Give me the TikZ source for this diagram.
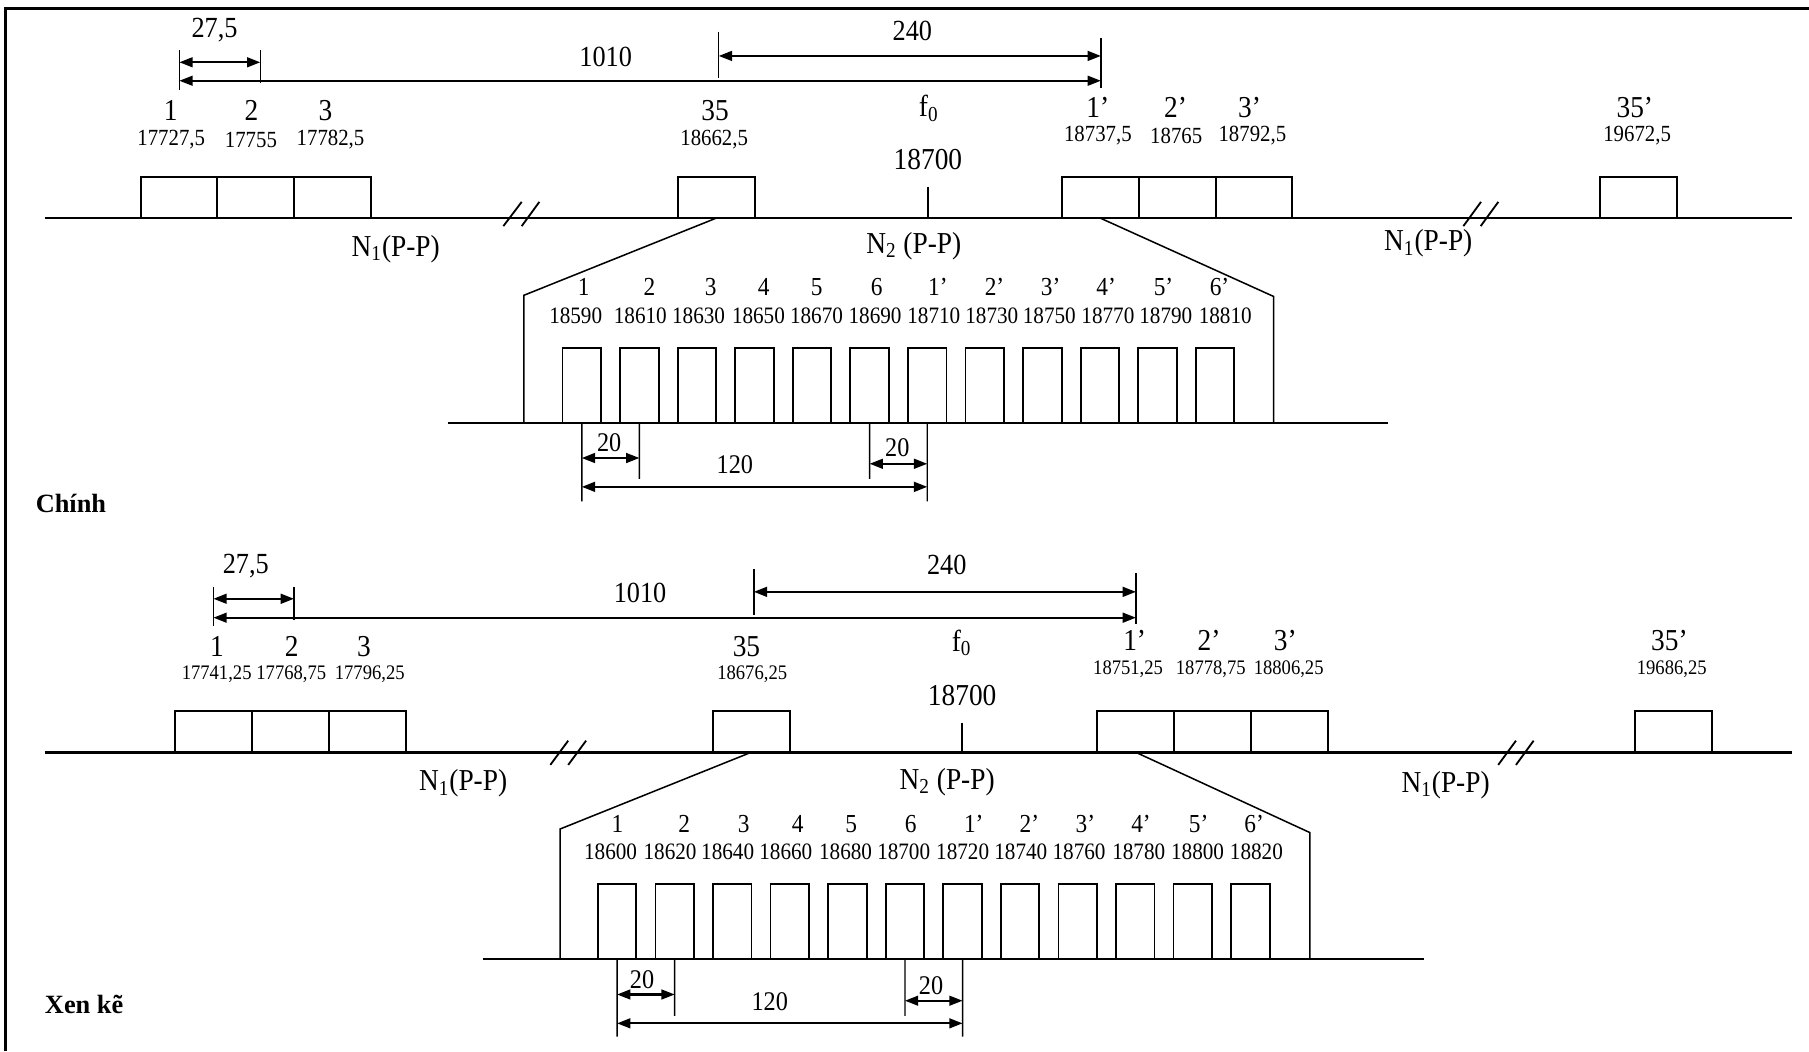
\documentclass[tikz,border=0pt]{standalone}
\usepackage{fontspec}
\setmainfont[FakeStretch=0.9]{Liberation Serif}
\newfontfamily\plainserif{Liberation Serif}
\usetikzlibrary{arrows.meta}
\tikzset{
 frameline/.style={line width=1.4pt},
 axisline/.style={line width=1.3pt},
 bigbox/.style={draw, line width=1pt, minimum width=1.332cm, minimum height=0.72cm, inner sep=0pt, outer sep=0pt, anchor=south west},
 smallbox/.style={draw, line width=0.9pt, minimum width=0.668cm, minimum height=1.3cm, inner sep=0pt, outer sep=0pt, anchor=south west},
 guide/.style={line width=0.75pt},
 tickline/.style={line width=0.7pt},
 dimarrow/.style={line width=1pt, {Triangle[length=2.3mm,width=1.7mm]}-{Triangle[length=2.3mm,width=1.7mm]}},
 brk/.style={line width=0.9pt},
 txt/.style={inner sep=0pt, outer sep=0pt},
 lbl/.style={txt, font=\fontsize{15}{17}\selectfont},
 numA/.style={txt, font=\fontsize{11.4}{13}\selectfont},
 numB/.style={txt, font=\fontsize{10.2}{12}\selectfont},
 zlbl/.style={txt, font=\fontsize{12.8}{14}\selectfont},
 znum/.style={txt, font=\fontsize{11.6}{13}\selectfont},
 dimtxt/.style={txt, font=\fontsize{14.4}{16}\selectfont},
 sdimtxt/.style={txt, font=\fontsize{13.3}{15}\selectfont},
 paneltitle/.style={txt, font=\plainserif\fontsize{13}{15}\selectfont\bfseries, anchor=west},
}
\begin{document}
\begin{tikzpicture}[x=0.02cm,y=-0.02cm]
\useasboundingbox (0,0) rectangle (1568,911);
% frame
\coordinate (fTL) at (5,7.2); \coordinate (fTR) at (1568,7.2); \coordinate (fBL) at (5,911);
\draw[frameline] (fBL) -- (fTL) -- (fTR);

%================ TOP PANEL ================
\coordinate (aT1t) at (155.5,43.4); \coordinate (aT1b) at (155.5,78);
\coordinate (aT2t) at (225.6,43.4); \coordinate (aT2b) at (225.6,72);
\coordinate (aT35t) at (623,27.5); \coordinate (aT35b) at (623,68);
\coordinate (aT1pt) at (954.2,33.2); \coordinate (aT1pb) at (954.2,76.6);
\draw[tickline] (aT1t) -- (aT1b);
\draw[tickline] (aT2t) -- (aT2b);
\draw[tickline] (aT35t) -- (aT35b);
\draw[tickline] (aT1pt) -- (aT1pb);
\coordinate (aD1l) at (155.5,54); \coordinate (aD1r) at (225.6,54);
\coordinate (aD2l) at (155.5,70); \coordinate (aD2r) at (954.2,70);
\coordinate (aD3l) at (623,48.5); \coordinate (aD3r) at (954.2,48.5);
\draw[dimarrow] (aD1l) -- (aD1r);
\draw[dimarrow] (aD2l) -- (aD2r);
\draw[dimarrow] (aD3l) -- (aD3r);
\node[dimtxt] (aL275) at (186,26) {27,5};
\node[dimtxt] (aL1010) at (525,49) {1010};
\node[dimtxt] (aL240) at (790.8,27) {240};
\node[lbl] (aC1) at (148,96) {1};
\node[lbl] (aC2) at (218,96) {2};
\node[lbl] (aC3) at (282,96) {3};
\node[lbl] (aC35) at (619.8,96) {35};
\node[lbl] (aF0) at (805,94) {f\textsubscript{0}};
\node[lbl] (aC1p) at (951.5,93) {1’};
\node[lbl] (aC2p) at (1019,93) {2’};
\node[lbl] (aC3p) at (1083,93) {3’};
\node[lbl] (aC35p) at (1417,93) {35’};
\node[numA] (aN1) at (148.4,121.4) {17727,5};
\node[numA] (aN2) at (217.5,121.4) {17755};
\node[numA] (aN3) at (286.5,121.4) {17782,5};
\node[numA] (aN35) at (619,121.4) {18662,5};
\node[numA] (aN1p) at (951.6,117.5) {18737,5};
\node[numA] (aN2p) at (1019.5,117.5) {18765};
\node[numA] (aN3p) at (1085.5,117.5) {18792,5};
\node[numA] (aN35p) at (1419,117.5) {19672,5};
\node[lbl] (aF0v) at (804.3,138.7) {18700};
\coordinate (aML) at (38.7,189); \coordinate (aMR) at (1553,189);
\draw[axisline] (aML) -- (aMR);
\coordinate (aFt) at (804.3,161.8); \coordinate (aFb) at (804.3,189);
\draw[tickline] (aFt) -- (aFb);
\node[bigbox] (aB1) at (121.9,189) {};
\node[bigbox] (aB2) at (188.5,189) {};
\node[bigbox] (aB3) at (255.1,189) {};
\node[bigbox] (aB35) at (587.7,189) {};
\node[bigbox] (aB1p) at (920.3,189) {};
\node[bigbox] (aB2p) at (987,189) {};
\node[bigbox] (aB3p) at (1053.6,189) {};
\node[bigbox] (aB35p) at (1386.9,189) {};
\coordinate (aK1a) at (436.3,196); \coordinate (aK1b) at (452.2,175);
\coordinate (aK2a) at (452.2,196); \coordinate (aK2b) at (467.5,175);
\coordinate (aK3a) at (1268.4,196); \coordinate (aK3b) at (1283.7,175);
\coordinate (aK4a) at (1283.4,196); \coordinate (aK4b) at (1298.7,175);
\draw[brk] (aK1a) -- (aK1b); \draw[brk] (aK2a) -- (aK2b);
\draw[brk] (aK3a) -- (aK3b); \draw[brk] (aK4a) -- (aK4b);
\node[lbl] (aNl) at (343,216) {N\textsubscript{1}(P-P)};
\node[lbl] (aNm) at (792,213) {N\textsubscript{2} (P-P)};
\node[lbl] (aNr) at (1238,211) {N\textsubscript{1}(P-P)};
\coordinate (aZl1) at (454,256); \coordinate (aZl2) at (454,366.6);
\coordinate (aZr1) at (1104,257); \coordinate (aZr2) at (1104,366.6);
\draw[guide] (aB35.south) -- (aZl1) -- (aZl2);
\draw[guide] (aB1p.south) -- (aZr1) -- (aZr2);
\coordinate (aBL) at (388,366.6); \coordinate (aBR) at (1203.5,366.6);
\draw[axisline] (aBL) -- (aBR);
\foreach \i in {0,...,11} \node[smallbox] (aS\i) at ({487.6+49.9*\i},366.6) {};
\foreach \x/\t [count=\k] in {506/1,563/2,616/3,662/4,708/5,760/6,813/1’,862/2’,910.6/3’,958.7/4’,1008.5/5’,1057/6’}
  \node[zlbl] (aZC\k) at (\x,249) {\t};
\foreach \x/\t [count=\k] in {499/18590,555/18610,605.5/18630,657.4/18650,707.7/18670,758.5/18690,809.4/18710,859.7/18730,909.5/18750,960.3/18770,1010.5/18790,1062/18810}
  \node[znum] (aZN\k) at (\x,273.5) {\t};
\coordinate (aV1b) at (504.3,434.5); \coordinate (aV2b) at (554.2,415);
\coordinate (aV6b) at (753.8,415); \coordinate (aV7b) at (803.7,434.5);
\draw[tickline] (aS0.south) -- (aV1b);
\draw[tickline] (aS1.south) -- (aV2b);
\draw[tickline] (aS5.south) -- (aV6b);
\draw[tickline] (aS6.south) -- (aV7b);
\coordinate (aE1l) at (504.3,397); \coordinate (aE1r) at (554.2,397);
\coordinate (aE2l) at (753.8,402); \coordinate (aE2r) at (803.7,402);
\coordinate (aE3l) at (504.3,422); \coordinate (aE3r) at (803.7,422);
\draw[dimarrow] (aE1l) -- (aE1r);
\draw[dimarrow] (aE2l) -- (aE2r);
\draw[dimarrow] (aE3l) -- (aE3r);
\node[sdimtxt] (aE1t) at (528,384) {20};
\node[sdimtxt] (aE2t) at (777.8,388) {20};
\node[sdimtxt] (aE3t) at (637,403) {120};
\node[paneltitle] (aTitle) at (31,436) {Chính};

%================ BOTTOM PANEL ================
\coordinate (bT1t) at (185,509); \coordinate (bT1b) at (185,543);
\coordinate (bT2t) at (254.8,509); \coordinate (bT2b) at (254.8,537);
\coordinate (bT35t) at (653.4,493.5); \coordinate (bT35b) at (653.4,533);
\coordinate (bT1pt) at (984.6,497); \coordinate (bT1pb) at (984.6,541);
\draw[tickline] (bT1t) -- (bT1b);
\draw[tickline] (bT2t) -- (bT2b);
\draw[tickline] (bT35t) -- (bT35b);
\draw[tickline] (bT1pt) -- (bT1pb);
\coordinate (bD1l) at (185,519); \coordinate (bD1r) at (254.8,519);
\coordinate (bD2l) at (185,535.4); \coordinate (bD2r) at (984.6,535.4);
\coordinate (bD3l) at (653.4,513); \coordinate (bD3r) at (984.6,513);
\draw[dimarrow] (bD1l) -- (bD1r);
\draw[dimarrow] (bD2l) -- (bD2r);
\draw[dimarrow] (bD3l) -- (bD3r);
\node[dimtxt] (bL275) at (213,491) {27,5};
\node[dimtxt] (bL1010) at (554.8,513.7) {1010};
\node[dimtxt] (bL240) at (820.6,490) {240};
\node[lbl] (bC1) at (188,560.5) {1};
\node[lbl] (bC2) at (252.8,560.5) {2};
\node[lbl] (bC3) at (315.5,560.5) {3};
\node[lbl] (bC35) at (647,560.5) {35};
\node[lbl] (bF0) at (833.5,557.5) {f\textsubscript{0}};
\node[lbl] (bC1p) at (983.5,555.5) {1’};
\node[lbl] (bC2p) at (1048,555.5) {2’};
\node[lbl] (bC3p) at (1114,555.5) {3’};
\node[lbl] (bC35p) at (1447,555.5) {35’};
\node[numB] (bN1) at (187.8,584) {17741,25};
\node[numB] (bN2) at (252.5,584) {17768,75};
\node[numB] (bN3) at (320.5,584) {17796,25};
\node[numB] (bN35) at (652,584) {18676,25};
\node[numB] (bN1p) at (977.8,580) {18751,25};
\node[numB] (bN2p) at (1049.5,580) {18778,75};
\node[numB] (bN3p) at (1117,580) {18806,25};
\node[numB] (bN35p) at (1449,580) {19686,25};
\node[lbl] (bF0v) at (834,603) {18700};
\coordinate (bML) at (38.7,652); \coordinate (bMR) at (1553,652);
\draw[axisline] (bML) -- (bMR);
\coordinate (bFt) at (834,627); \coordinate (bFb) at (834,652);
\draw[tickline] (bFt) -- (bFb);
\node[bigbox] (bB1) at (151.7,652) {};
\node[bigbox] (bB2) at (218.3,652) {};
\node[bigbox] (bB3) at (284.9,652) {};
\node[bigbox] (bB35) at (618,652) {};
\node[bigbox] (bB1p) at (951,652) {};
\node[bigbox] (bB2p) at (1017.6,652) {};
\node[bigbox] (bB3p) at (1084.2,652) {};
\node[bigbox] (bB35p) at (1417,652) {};
\coordinate (bK1a) at (477,663); \coordinate (bK1b) at (492.5,642);
\coordinate (bK2a) at (492.5,663); \coordinate (bK2b) at (508,642);
\coordinate (bK3a) at (1298.6,663); \coordinate (bK3b) at (1314,642);
\coordinate (bK4a) at (1314,663); \coordinate (bK4b) at (1329.3,642);
\draw[brk] (bK1a) -- (bK1b); \draw[brk] (bK2a) -- (bK2b);
\draw[brk] (bK3a) -- (bK3b); \draw[brk] (bK4a) -- (bK4b);
\node[lbl] (bNl) at (401.4,679) {N\textsubscript{1}(P-P)};
\node[lbl] (bNm) at (821,678) {N\textsubscript{2} (P-P)};
\node[lbl] (bNr) at (1253,680.4) {N\textsubscript{1}(P-P)};
\coordinate (bZl1) at (485.4,718.6); \coordinate (bZl2) at (485.4,831.3);
\coordinate (bZr1) at (1135.4,721.7); \coordinate (bZr2) at (1135.4,831.3);
\draw[guide] (bB35.south) -- (bZl1) -- (bZl2);
\draw[guide] (bB1p.south) -- (bZr1) -- (bZr2);
\coordinate (bBL) at (418.5,831.3); \coordinate (bBR) at (1234.5,831.3);
\draw[axisline] (bBL) -- (bBR);
\foreach \i in {0,...,11} \node[smallbox] (bS\i) at ({518.2+49.9*\i},831.3) {};
\foreach \x/\t [count=\k] in {535.2/1,593/2,644.6/3,691.5/4,737.7/5,789.4/6,844/1’,892.2/2’,940.8/3’,989/4’,1039/5’,1087/6’}
  \node[zlbl] (bZC\k) at (\x,714.5) {\t};
\foreach \x/\t [count=\k] in {529.2/18600,580.8/18620,630.7/18640,681.1/18660,732.9/18680,783.3/18700,834.4/18720,884.8/18740,935.3/18760,987/18780,1038/18800,1089/18820}
  \node[znum] (bZN\k) at (\x,738) {\t};
\coordinate (bV1b) at (534.9,898.5); \coordinate (bV2b) at (584.8,880.6);
\coordinate (bV6b) at (784.4,880.6); \coordinate (bV7b) at (834.3,898.5);
\draw[tickline] (bS0.south) -- (bV1b);
\draw[tickline] (bS1.south) -- (bV2b);
\draw[tickline] (bS5.south) -- (bV6b);
\draw[tickline] (bS6.south) -- (bV7b);
\coordinate (bE1l) at (534.9,862); \coordinate (bE1r) at (584.8,862);
\coordinate (bE2l) at (784.4,867.4); \coordinate (bE2r) at (834.3,867.4);
\coordinate (bE3l) at (534.9,887); \coordinate (bE3r) at (834.3,887);
\draw[dimarrow] (bE1l) -- (bE1r);
\draw[dimarrow] (bE2l) -- (bE2r);
\draw[dimarrow] (bE3l) -- (bE3r);
\node[sdimtxt] (bE1t) at (556.5,849) {20};
\node[sdimtxt] (bE2t) at (807,854) {20};
\node[sdimtxt] (bE3t) at (667.2,868.5) {120};
\node[paneltitle] (bTitle) at (39,871) {Xen kẽ};
\end{tikzpicture}
\end{document}
